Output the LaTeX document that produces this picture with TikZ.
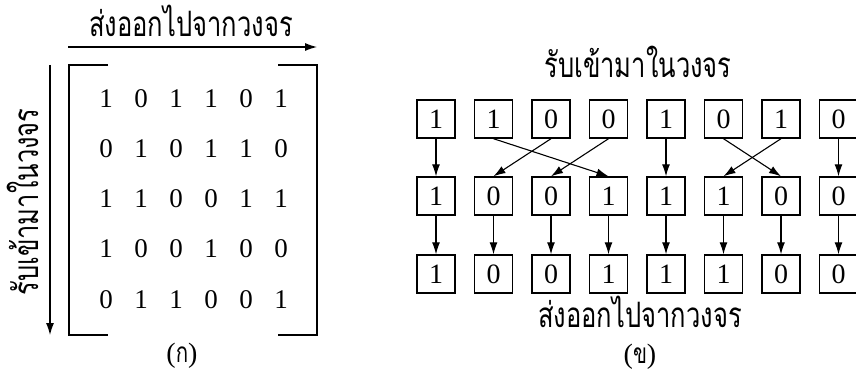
\documentclass[tikz,border=0pt]{standalone}
\usepackage{fontspec}
\setmainfont{Liberation Serif}
\newfontfamily\thaifont[Script=Thai,FakeStretch=0.73]{Loma}
\usetikzlibrary{scopes,matrix,arrows.meta}

\tikzset{
  thaitext/.style={font=\thaifont\fontsize{35}{37}\selectfont, inner sep=0pt,
    anchor=base, text height=22pt, text depth=2pt},
  captext/.style={font=\fontsize{28}{30}\selectfont, inner sep=0pt,
    anchor=base, text height=18pt, text depth=4pt},
  bitbox/.style={draw, line width=1.4pt, minimum size=38pt, inner sep=0pt,
    font=\fontsize{28}{30}\selectfont},
  flow/.style={line width=1.1pt, -{Latex[length=12pt,width=8pt]}}
}

\begin{document}
\begin{tikzpicture}[x=1pt,y=-1pt]
  \useasboundingbox (0,0) rectangle (856,374);

  % left: matrix with its two axis arrows
  \node[thaitext] (outA) at (191,37) {ส่งออกไปจากวงจร};
  \node[thaitext, rotate=90] (inA) at (38,202) {รับเข้ามาในวงจร};
  \coordinate (topL) at (68,47);
  \coordinate (topR) at (317,47);
  \coordinate (sideT) at (50,65);
  \coordinate (sideB) at (50,335);
  \draw[flow] (topL) -- (topR);
  \draw[flow] (sideT) -- (sideB);

  \matrix (M) at (193.5,199) [matrix of nodes,
      nodes={minimum width=35pt, minimum height=50pt, inner sep=0pt,
        font=\fontsize{27}{29}\selectfont}] {
    1 & 0 & 1 & 1 & 0 & 1 \\
    0 & 1 & 0 & 1 & 1 & 0 \\
    1 & 1 & 0 & 0 & 1 & 1 \\
    1 & 0 & 0 & 1 & 0 & 0 \\
    0 & 1 & 1 & 0 & 0 & 1 \\
  };
  {[line width=1.4pt]
    \draw (108,65) -- (69,65) -- (69,335) -- (108,335);
    \draw (278,65) -- (317,65) -- (317,335) -- (278,335);
  }
  \node[captext] (capA) at (182,362) {({\thaifont ก})};

  % right: three rows of bits
  \node[thaitext] (inB) at (638,78) {รับเข้ามาในวงจร};
  \foreach \v [count=\i] in {1,1,0,0,1,0,1,0}
    \node[bitbox] (t\i) at (436+57.5*\i-57.5,119) {\v};
  \foreach \v [count=\i] in {1,0,0,1,1,1,0,0}
    \node[bitbox] (m\i) at (436+57.5*\i-57.5,196) {\v};
  \foreach \v [count=\i] in {1,0,0,1,1,1,0,0}
    \node[bitbox] (b\i) at (436+57.5*\i-57.5,274) {\v};
  \node[thaitext] (outB) at (640,327) {ส่งออกไปจากวงจร};
  \node[captext] (capB) at (640,363) {({\thaifont ข})};

  {[flow]
    \draw (t1) -- (m1);
    \draw (t2.south) -- (m4.north);
    \draw (t3.south) -- (m2.north);
    \draw (t4.south) -- (m3.north);
    \draw (t5) -- (m5);
    \draw (t6.south) -- (m7.north);
    \draw (t7.south) -- (m6.north);
    \draw (t8) -- (m8);
    \foreach \i in {1,...,8}
      \draw (m\i) -- (b\i);
  }
\end{tikzpicture}
\end{document}
